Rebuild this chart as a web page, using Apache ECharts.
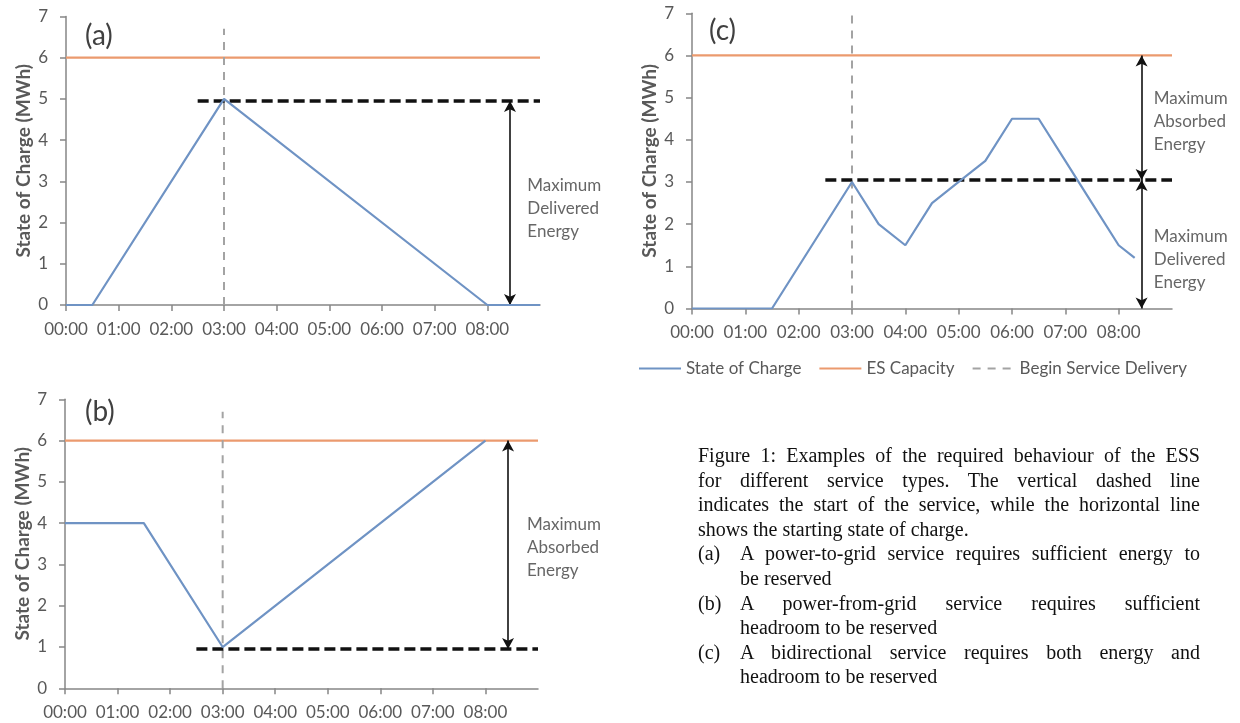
<!DOCTYPE html>
<html>
<head>
<meta charset="utf-8">
<script src="https://cdn.jsdelivr.net/npm/echarts@6/dist/echarts.min.js"></script>
<style>
  html, body { margin: 0; padding: 0; background: #fff; }
  #wrap { position: relative; width: 1240px; height: 723px; }
  #chart { position: absolute; left: 0; top: 0; width: 1240px; height: 723px; }
  #caption { position: absolute; left: 698px; top: 443px; width: 502px;
    font-family: "Liberation Serif", "Times New Roman", serif; font-size: 20px; color: #111; }
  #caption .ln { height: 24.6px; line-height: 24.6px; white-space: nowrap; }
  #caption .j { text-align: justify; text-align-last: justify; white-space: normal; }
  #caption .item { display: flex; }
  #caption .lab { width: 42px; flex: none; }
  #caption .body { width: 460px; flex: none; }
</style>
</head>
<body>
<div id="wrap">
  <div id="chart"></div>
  <div id="caption">
    <div class="ln j">Figure 1: Examples of the required behaviour of the ESS</div>
    <div class="ln j">for different service types. The vertical dashed line</div>
    <div class="ln j">indicates the start of the service, while the horizontal line</div>
    <div class="ln">shows the starting state of charge.</div>
    <div class="item"><div class="lab ln">(a)</div><div class="body"><div class="ln j">A power-to-grid service requires sufficient energy to</div><div class="ln">be reserved</div></div></div>
    <div class="item"><div class="lab ln">(b)</div><div class="body"><div class="ln j">A power-from-grid service requires sufficient</div><div class="ln">headroom to be reserved</div></div></div>
    <div class="item"><div class="lab ln">(c)</div><div class="body"><div class="ln j">A bidirectional service requires both energy and</div><div class="ln">headroom to be reserved</div></div></div>
  </div>
</div>
<script>
// ---- data ----
const TIME_TICKS = [0, 1, 2, 3, 4, 5, 6, 7, 8];
const TIME_LABELS = ['00:00', '01:00', '02:00', '03:00', '04:00', '05:00', '06:00', '07:00', '08:00'];
const X_MAX = 9;
const Y_MAX = 7;

const timeA = [0, 0.5, 3, 8, 9];
const socA  = [0, 0, 5, 0, 0];

const timeB = [0, 1.5, 3, 8];
const socB  = [4, 4, 1, 6];

const timeC = [0, 1.5, 3, 3.5, 4, 4.5, 5, 5.5, 6, 6.5, 7, 7.5, 8, 8.3];
const socC  = [0, 0, 3, 2, 1.5, 2.5, 3, 3.5, 4.5, 4.5, 3.5, 2.5, 1.5, 1.2];

const capacityX = [0, 9];
const capacity = 6;              // ES Capacity (MWh)
const serviceStart = 3;          // Begin Service Delivery (hours)
const serviceLineTop = [6.7, 6.7, 7];
const startLevel = [4.95, 0.95, 3.05];   // starting state of charge (dashed black)
const startLineX = [2.5, 9];
const arrowX = [8.43, 8.43, 8.43];
const arrowsA = [[0, 4.95]];
const arrowsB = [[0.95, 6]];
const arrowsC = [[3.05, 6], [0, 3.05]];
const notesA = [{ x: 8.75, y: 2.35, text: 'Maximum\nDelivered\nEnergy' }];
const notesB = [{ x: 8.78, y: 3.42, text: 'Maximum\nAbsorbed\nEnergy' }];
const notesC = [{ x: 8.65, y: 4.43, text: 'Maximum\nAbsorbed\nEnergy' },
                { x: 8.65, y: 1.15, text: 'Maximum\nDelivered\nEnergy' }];
const panelLabels = ['(a)', '(b)', '(c)'];
const yTitle = 'State of Charge (MWh)';
const legendNames = ['State of Charge', 'ES Capacity', 'Begin Service Delivery'];

// ---- styling ----
const BLUE = '#6f93c4', ORANGE = '#eb9a6e', GREY = '#a3a3a3', AXIS = '#868686', TXT = '#595959';
const FONT = 'Lato';

const grids = [
  { left: 66, right: 1240 - 540, top: 16.5, bottom: 723 - 305 },
  { left: 65, right: 1240 - 538, top: 399.3, bottom: 723 - 688.3 },
  { left: 692, right: 1240 - 1172, top: 13.3, bottom: 723 - 308.5 }
];

const zip = (xs, ys) => xs.map((x, i) => [x, ys[i]]);

const xAxes = grids.map((g, i) => ({
  type: 'value', gridIndex: i, min: 0, max: X_MAX, interval: 1,
  axisLine: { show: true, lineStyle: { color: AXIS, width: 1.5 } },
  axisTick: { show: true, length: 6, customValues: TIME_TICKS, lineStyle: { color: AXIS, width: 1.5 } },
  axisLabel: { customValues: TIME_TICKS, formatter: v => TIME_LABELS[Math.round(v)] || '',
               color: TXT, fontSize: 17, fontFamily: FONT, margin: 16 },
  splitLine: { show: false }
}));

const yAxes = grids.map((g, i) => ({
  type: 'value', gridIndex: i, min: 0, max: Y_MAX, interval: 1,
  name: yTitle, nameLocation: 'middle', nameRotate: 90, nameGap: 33,
  nameTextStyle: { fontWeight: 'bold', fontSize: 19, fontFamily: FONT, color: TXT },
  axisLine: { show: true, lineStyle: { color: AXIS, width: 1.5 } },
  axisTick: { show: true, length: 6, lineStyle: { color: AXIS, width: 1.5 } },
  axisLabel: { color: TXT, fontSize: 17, fontFamily: FONT, margin: 18 },
  splitLine: { show: false }
}));

const socData = [zip(timeA, socA), zip(timeB, socB), zip(timeC, socC)];
const arrows = [arrowsA, arrowsB, arrowsC];
const notes = [notesA, notesB, notesC];

const series = [];
grids.forEach((g, i) => {
  series.push({
    name: 'ES Capacity', type: 'line', xAxisIndex: i, yAxisIndex: i, symbol: 'none',
    data: capacityX.map(x => [x, capacity]),
    lineStyle: { color: ORANGE, width: 2.2 }, itemStyle: { color: ORANGE }, z: 2, silent: true
  });
  series.push({
    name: 'Begin Service Delivery', type: 'line', xAxisIndex: i, yAxisIndex: i, symbol: 'none',
    data: [[serviceStart, 0], [serviceStart, serviceLineTop[i]]],
    lineStyle: { color: GREY, width: 2, type: [8, 7] }, itemStyle: { color: GREY }, z: 3, silent: true
  });
  series.push({
    name: 'Starting SoC', type: 'line', xAxisIndex: i, yAxisIndex: i, symbol: 'none',
    data: startLineX.map(x => [x, startLevel[i]]),
    lineStyle: { color: '#111', width: 3.5, type: [11, 5] }, z: 4, silent: true,
    markLine: {
      silent: true, symbol: ['arrow', 'arrow'], symbolSize: [9, 11], animation: false,
      label: { show: false },
      lineStyle: { color: '#111', width: 1.6, type: 'solid' },
      data: arrows[i].map(a => [{ coord: [arrowX[i], a[0]] }, { coord: [arrowX[i], a[1]] }])
    }
  });
  series.push({
    name: 'State of Charge', type: 'line', xAxisIndex: i, yAxisIndex: i, symbol: 'none',
    data: socData[i],
    lineStyle: { color: BLUE, width: 2.2 }, itemStyle: { color: BLUE }, z: 5, silent: true
  });
  series.push({
    name: 'note' + i, type: 'scatter', xAxisIndex: i, yAxisIndex: i, symbolSize: 1,
    itemStyle: { color: 'rgba(0,0,0,0)' }, silent: true, clip: false,
    data: notes[i].map(n => ({ value: [n.x, n.y], text: n.text })),
    label: { show: true, position: 'right', distance: 0, formatter: p => p.data.text,
             color: '#404040', fontSize: 17, lineHeight: 23, fontFamily: FONT }
  });
});

const labelPos = [[85, 22], [85, 398], [709, 17]];
const graphic = panelLabels.map((t, i) => ({
  type: 'text', left: labelPos[i][0], top: labelPos[i][1],
  style: { text: t, font: '28px ' + FONT, fill: '#404040' }
}));

const chart = echarts.init(document.getElementById('chart'), null, { renderer: 'canvas' });
chart.setOption({
  animation: false,
  backgroundColor: '#fff',
  grid: grids,
  xAxis: xAxes,
  yAxis: yAxes,
  legend: {
    data: legendNames, left: 633, top: 355, itemWidth: 42, itemHeight: 14, itemGap: 17,
    itemStyle: { color: 'rgba(0,0,0,0)', borderColor: 'rgba(0,0,0,0)', borderWidth: 0 },
    textStyle: { fontSize: 17, color: TXT, fontFamily: FONT }, selectedMode: false
  },
  graphic: graphic,
  series: series
});
</script>
</body>
</html>
